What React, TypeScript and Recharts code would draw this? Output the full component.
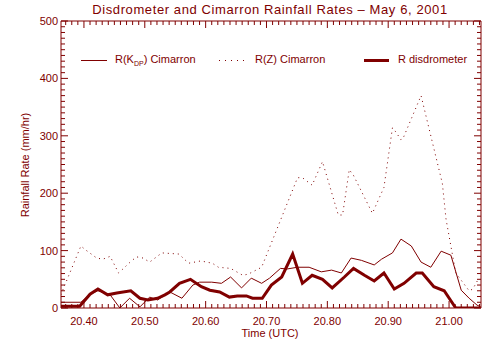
import { Line, LineChart, XAxis, YAxis } from 'recharts';

const INK = '#800000';
const FONT = '"Liberation Sans", Arial, sans-serif';

// time axis (decimal hours UTC)
const xMajorTicks = [20.4, 20.5, 20.6, 20.7, 20.8, 20.9, 21.0];
const yMajorTicks = [0, 100, 200, 300, 400, 500];
const xDomain = [20.3623, 21.0525];

// R disdrometer
const distTime = [20.362, 20.393, 20.41, 20.423, 20.439, 20.454, 20.477, 20.492, 20.505, 20.521, 20.533, 20.541, 20.557, 20.575, 20.593, 20.607, 20.623, 20.639, 20.652, 20.667, 20.677, 20.693, 20.708, 20.725, 20.743, 20.759, 20.775, 20.792, 20.808, 20.828, 20.843, 20.861, 20.877, 20.893, 20.91, 20.926, 20.946, 20.956, 20.975, 20.992, 21.011, 21.052];
const distRate = [3, 3, 24, 33, 23, 26, 30, 17, 14, 17, 23, 28, 43, 50, 37, 31, 28, 19, 21, 21, 17, 17, 40, 54, 94, 43, 57, 50, 35, 54, 69, 57, 47, 61, 33, 43, 61, 61, 37, 30, 0, 0];

// R(Kdp) Cimarron
const kdpTime = [20.362, 20.395, 20.41, 20.423, 20.443, 20.459, 20.475, 20.492, 20.508, 20.521, 20.541, 20.561, 20.579, 20.59, 20.61, 20.626, 20.641, 20.659, 20.675, 20.692, 20.705, 20.723, 20.734, 20.751, 20.77, 20.79, 20.807, 20.823, 20.839, 20.856, 20.877, 20.889, 20.907, 20.921, 20.938, 20.954, 20.97, 20.987, 21.003, 21.02, 21.033, 21.046, 21.052];
const kdpRate = [10, 10, 24, 30, 23, 0, 17, 2, 19, 14, 28, 17, 40, 45, 45, 43, 54, 35, 52, 43, 52, 69, 68, 71, 71, 63, 66, 61, 87, 83, 75, 85, 96, 120, 108, 80, 71, 99, 92, 31, 17, 5, 2];

// R(Z) Cimarron
const zTime = [20.362, 20.395, 20.403, 20.421, 20.431, 20.443, 20.457, 20.479, 20.487, 20.497, 20.508, 20.528, 20.556, 20.572, 20.592, 20.611, 20.621, 20.641, 20.661, 20.67, 20.692, 20.751, 20.759, 20.775, 20.792, 20.818, 20.825, 20.836, 20.843, 20.874, 20.893, 20.907, 20.913, 20.921, 20.925, 20.954, 20.989, 20.995, 21.011, 21.033, 21.039, 21.049];
const zRate = [23, 108, 101, 87, 85, 90, 61, 83, 89, 87, 80, 96, 94, 78, 82, 78, 71, 69, 57, 59, 71, 227, 227, 214, 255, 162, 162, 241, 231, 165, 210, 314, 306, 293, 297, 370, 217, 155, 61, 30, 33, 52];

const toRows = (times: number[], rates: number[]) => times.map((t, i) => ({ t, r: rates[i] }));
const distData = toRows(distTime, distRate);
const kdpData = toRows(kdpTime, kdpRate);
const zData = toRows(zTime, zRate);

// tick marks: every 0.01 h and every 10 mm/hr
const xTicks: number[] = [];
for (let i = 2037; i <= 2105; i++) xTicks.push(i / 100);
const yTicks: number[] = [];
for (let v = 0; v <= 500; v += 10) yTicks.push(v);

const isMajorX = (v: number) => xMajorTicks.some((m) => Math.abs(m - v) < 1e-6);
const isMajorY = (v: number) => yMajorTicks.includes(v);

const BottomTick = (props: any) => {
  const { x, y, payload } = props;
  const major = isMajorX(payload.value);
  return (
    <g>
      <line x1={x} x2={x} y1={y} y2={y - (major ? 7 : 4)} stroke={INK} strokeWidth={1} />
      {major ? (
        <text x={x} y={y + 17} textAnchor="middle" fill={INK} fontSize={11} fontFamily={FONT}>
          {payload.value.toFixed(2)}
        </text>
      ) : null}
    </g>
  );
};

const TopTick = (props: any) => {
  const { x, y, payload } = props;
  const major = isMajorX(payload.value);
  return <line x1={x} x2={x} y1={y} y2={y + (major ? 7 : 4)} stroke={INK} strokeWidth={1} />;
};

const LeftTick = (props: any) => {
  const { x, y, payload } = props;
  const major = isMajorY(payload.value);
  return (
    <g>
      <line x1={x} x2={x + (major ? 7 : 4)} y1={y} y2={y} stroke={INK} strokeWidth={1} />
      {major ? (
        <text x={x - 3} y={y + 4} textAnchor="end" fill={INK} fontSize={11} fontFamily={FONT}>
          {payload.value}
        </text>
      ) : null}
    </g>
  );
};

const RightTick = (props: any) => {
  const { x, y, payload } = props;
  const major = isMajorY(payload.value);
  return <line x1={x} x2={x - (major ? 7 : 4)} y1={y} y2={y} stroke={INK} strokeWidth={1} />;
};

const App = () => {
  return (
    <div style={{ position: 'absolute', left: 0, top: 0, width: 498, height: 351 }}>
      <svg width={498} height={351} style={{ position: 'absolute', left: 0, top: 0 }}>
        <text x={270} y={14} textAnchor="middle" fill={INK} fontSize={13} fontFamily={FONT} letterSpacing={0.6}>
          Disdrometer and Cimarron Rainfall Rates – May 6, 2001
        </text>
        <text x={270} y={337} textAnchor="middle" fill={INK} fontSize={11} fontFamily={FONT}>
          Time (UTC)
        </text>
        <text x={0} y={0} transform="translate(29,165) rotate(-90)" textAnchor="middle" fill={INK} fontSize={11} fontFamily={FONT}>
          Rainfall Rate (mm/hr)
        </text>
        <line x1={81} x2={107} y1={60.5} y2={60.5} stroke={INK} strokeWidth={1} />
        <text x={115} y={63} fill={INK} fontSize={11} fontFamily={FONT}>
          R(K
          <tspan fontSize={7} dy={3}>DP</tspan>
          <tspan dy={-3}>) Cimarron</tspan>
        </text>
        <line x1={219} x2={245} y1={60.5} y2={60.5} stroke={INK} strokeWidth={1} strokeDasharray="1 5" />
        <text x={255} y={63} fill={INK} fontSize={11} fontFamily={FONT}>
          R(Z) Cimarron
        </text>
        <line x1={364} x2={389} y1={60.5} y2={60.5} stroke={INK} strokeWidth={3} />
        <text x={398} y={63} fill={INK} fontSize={11} fontFamily={FONT}>
          R disdrometer
        </text>
      </svg>
      {/* frame, ticks and the disdrometer series */}
      <div style={{ position: 'absolute', left: 0, top: 0 }}>
        <LineChart width={498} height={351} margin={{ top: 20, right: 16, bottom: 0, left: 0 }}>
          <XAxis xAxisId={0} dataKey="t" type="number" domain={xDomain} allowDataOverflow ticks={xTicks} interval={0} height={43} tickSize={0} tickMargin={0} tickLine={false} axisLine={{ stroke: INK }} tick={BottomTick} />
          <XAxis xAxisId="top" orientation="top" dataKey="t" type="number" domain={xDomain} allowDataOverflow ticks={xTicks} interval={0} height={1} tickSize={0} tickMargin={0} tickLine={false} axisLine={{ stroke: INK }} tick={TopTick} />
          <YAxis yAxisId={0} type="number" domain={[0, 500]} allowDataOverflow ticks={yTicks} interval={0} width={61} tickSize={0} tickMargin={0} tickLine={false} axisLine={{ stroke: INK }} tick={LeftTick} />
          <YAxis yAxisId="right" orientation="right" type="number" domain={[0, 500]} allowDataOverflow ticks={yTicks} interval={0} width={1} tickSize={0} tickMargin={0} tickLine={false} axisLine={{ stroke: INK }} tick={RightTick} />
          <Line data={distData} dataKey="r" type="linear" stroke={INK} strokeWidth={3} dot={false} activeDot={false} isAnimationActive={false} />
        </LineChart>
      </div>
      {/* the two Cimarron series, same plot box with hidden axes */}
      <div style={{ position: 'absolute', left: 0, top: 0 }}>
        <LineChart width={498} height={351} margin={{ top: 21, right: 17, bottom: 43, left: 61 }}>
          <XAxis dataKey="t" type="number" domain={xDomain} allowDataOverflow hide />
          <YAxis type="number" domain={[0, 500]} allowDataOverflow hide />
          <Line data={zData} dataKey="r" type="linear" stroke={INK} strokeWidth={1} strokeDasharray="1 4" dot={false} activeDot={false} isAnimationActive={false} />
          <Line data={kdpData} dataKey="r" type="linear" stroke={INK} strokeWidth={1} dot={false} activeDot={false} isAnimationActive={false} />
        </LineChart>
      </div>
    </div>
  );
};

export default App;
